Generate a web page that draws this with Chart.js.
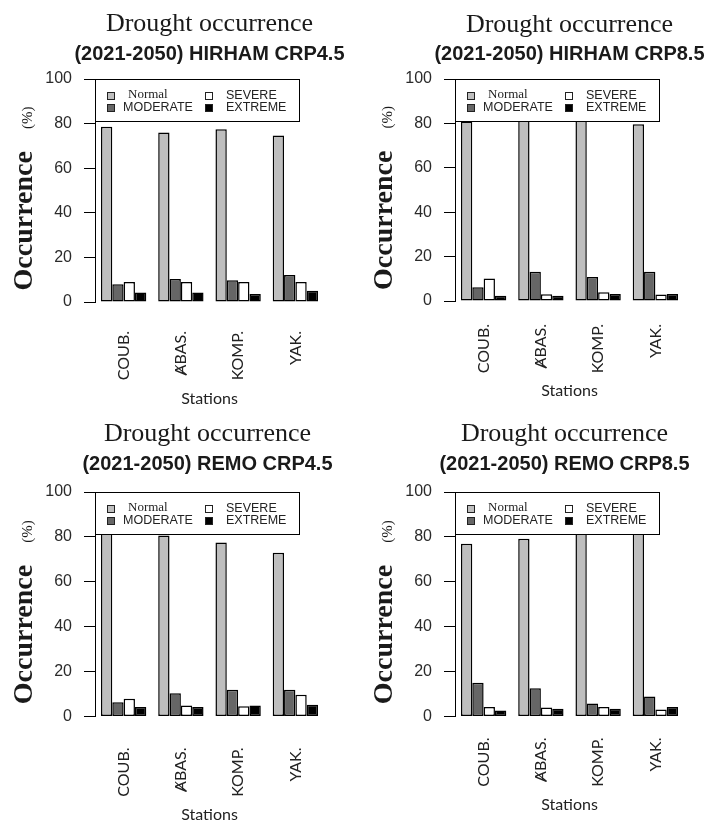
<!DOCTYPE html>
<html>
<head>
<meta charset="utf-8">
<script src="https://cdn.jsdelivr.net/npm/chart.js@4.4.1/dist/chart.umd.min.js"></script>
<style>
  html, body { margin: 0; padding: 0; background: #fff; }
  #wrap { position: relative; width: 708px; height: 827px; overflow: hidden; background: #fff; }
  #wrap canvas { position: absolute; }
</style>
</head>
<body>
<div id="wrap">
  <canvas id="c1" width="354" height="413" style="left:0;top:0"></canvas>
  <canvas id="c2" width="348" height="413" style="left:360px;top:0"></canvas>
  <canvas id="c3" width="354" height="414" style="left:0;top:413px"></canvas>
  <canvas id="c4" width="348" height="414" style="left:360px;top:413px"></canvas>
</div>
<script>
// Stations and drought classes
const stations = ['COUB.', 'ȺBAS.', 'KOMP.', 'YAK.'];
const classNames = ['Normal', 'MODERATE', 'SEVERE', 'EXTREME'];
const yTickStep = 20;

// Occurrence (%) per station, 2021-2050
const hirham45Normal   = [78.6, 76.0, 77.5, 74.7];
const hirham45Moderate = [8.0, 10.3, 9.7, 12.1];
const hirham45Severe   = [9.0, 9.0, 9.0, 9.0];
const hirham45Extreme  = [4.3, 4.3, 3.6, 5.1];

const hirham85Normal   = [80.8, 81.4, 82.1, 79.6];
const hirham85Moderate = [6.2, 13.2, 10.8, 13.2];
const hirham85Severe   = [10.1, 3.0, 3.9, 2.9];
const hirham85Extreme  = [2.4, 2.4, 3.2, 3.2];

const remo45Normal   = [81.5, 80.6, 77.5, 72.9];
const remo45Moderate = [6.4, 10.4, 11.9, 11.9];
const remo45Severe   = [7.9, 4.9, 4.6, 9.7];
const remo45Extreme  = [4.2, 4.2, 4.9, 5.2];

const remo85Normal   = [76.9, 79.2, 86.6, 83.8];
const remo85Moderate = [15.0, 12.6, 5.8, 8.9];
const remo85Severe   = [4.2, 4.0, 4.2, 3.1];
const remo85Extreme  = [2.7, 3.4, 3.4, 4.2];

const classColors = ['#bebebe', '#666666', '#ffffff', '#000000'];

// Title, mixed-font y-axis title and boxed legend drawn over the plot region
const panelDecor = {
  id: 'panelDecor',
  afterDatasetsDraw(chart, args, opts) {
    const { ctx, chartArea } = chart;
    const x0 = chartArea.left, y0 = chartArea.top, w = 205, h = 43;
    ctx.save();
    ctx.fillStyle = '#fff';
    ctx.fillRect(x0, y0, w, h);
    ctx.strokeStyle = '#000';
    ctx.lineWidth = 1;
    ctx.strokeRect(Math.round(x0) + 0.5, Math.round(y0) + 0.5, w - 1, h - 1);
    const sqX = [12, 110], txX = [28, 131], rowY = [17, 29];
    chart.data.datasets.forEach((ds, i) => {
      const col = Math.floor(i / 2), row = i % 2;
      const sx = Math.round(x0 + sqX[col]) + 0.5, sy = Math.round(y0 + rowY[row] - 4) + 0.5;
      ctx.fillStyle = ds.backgroundColor;
      ctx.fillRect(sx, sy, 7, 7);
      ctx.strokeStyle = '#222';
      ctx.strokeRect(sx, sy, 7, 7);
      ctx.fillStyle = '#222';
      ctx.textBaseline = 'middle';
      ctx.textAlign = 'left';
      if (i === 0) {
        ctx.font = '13px "Liberation Serif", "Times New Roman", serif';
        ctx.fillText(ds.label, x0 + txX[col] + 5, y0 + rowY[row] - 1);
      } else {
        ctx.font = '12.5px "Liberation Sans", Arial, sans-serif';
        ctx.fillText(ds.label, x0 + txX[col], y0 + rowY[row]);
      }
    });
    ctx.restore();
  },
  afterDraw(chart, args, opts) {
    const { ctx, chartArea } = chart;
    const cx = (chartArea.left + chartArea.right) / 2 + (opts.dx || 0);
    ctx.save();
    ctx.fillStyle = '#1a1a1a';
    ctx.textAlign = 'center';
    ctx.textBaseline = 'alphabetic';
    ctx.font = '26px "Liberation Serif", "Times New Roman", serif';
    ctx.fillText(opts.title, cx, opts.titleY);
    ctx.font = 'bold 20px "Liberation Sans", Arial, sans-serif';
    ctx.fillText(opts.subtitle, cx, opts.subY);

    // "Occurrence (%)" along the y axis
    const big = 'bold 28px "Liberation Serif", "Times New Roman", serif';
    const small = '15px "Liberation Serif", "Times New Roman", serif';
    ctx.font = big;
    const w1 = ctx.measureText('Occurrence').width;
    ctx.font = small;
    const w2 = ctx.measureText('(%)').width;
    const gap = 22;
    const total = w1 + gap + w2;
    const cy = (chartArea.top + chartArea.bottom) / 2 + 8;
    ctx.translate(32, cy);
    ctx.rotate(-Math.PI / 2);
    ctx.textAlign = 'left';
    ctx.font = big;
    ctx.fillText('Occurrence', -total / 2, 0);
    ctx.font = small;
    ctx.fillText('(%)', -total / 2 + w1 + gap, 0);
    ctx.restore();
  }
};

const panels = [
  { id: 'c1', sub: '(2021-2050) HIRHAM CRP4.5', series: [hirham45Normal, hirham45Moderate, hirham45Severe, hirham45Extreme],
    padRight: 30, xHeight: 111, tickPad: 29, titlePad: 5, titleY: 31, subY: 60, dx: 0 },
  { id: 'c2', sub: '(2021-2050) HIRHAM CRP8.5', series: [hirham85Normal, hirham85Moderate, hirham85Severe, hirham85Extreme],
    padRight: 24, xHeight: 112, tickPad: 23, titlePad: 13, titleY: 32, subY: 60, dx: 0 },
  { id: 'c3', sub: '(2021-2050) REMO CRP4.5', series: [remo45Normal, remo45Moderate, remo45Severe, remo45Extreme],
    padRight: 30, xHeight: 110.5, tickPad: 31, titlePad: 3, titleY: 28, subY: 57, dx: -2 },
  { id: 'c4', sub: '(2021-2050) REMO CRP8.5', series: [remo85Normal, remo85Moderate, remo85Severe, remo85Extreme],
    padRight: 24, xHeight: 110.5, tickPad: 21, titlePad: 13, titleY: 28, subY: 57, dx: -5 }
];

function build(p) {
  const ctx = document.getElementById(p.id).getContext('2d');
  return new Chart(ctx, {
    type: 'bar',
    data: {
      labels: stations,
      datasets: classNames.map((name, i) => ({
        label: name,
        data: p.series[i],
        backgroundColor: classColors[i],
        borderColor: '#000',
        borderWidth: 1.5,
        borderSkipped: false,
        categoryPercentage: 0.792,
        barPercentage: 1.0
      }))
    },
    options: {
      responsive: false,
      animation: false,
      layout: { padding: { top: 79, right: p.padRight, left: 0, bottom: 0 } },
      plugins: {
        legend: { display: false },
        tooltip: { enabled: false },
        title: { display: false },
        panelDecor: { title: 'Drought occurrence', subtitle: p.sub, titleY: p.titleY, subY: p.subY, dx: p.dx }
      },
      scales: {
        x: {
          ticks: {
            autoSkip: false, maxRotation: 90, minRotation: 90, padding: p.tickPad,
            color: '#222', font: { family: 'Lato, "Open Sans", sans-serif', size: 16 }
          },
          grid: { display: false, drawTicks: false },
          border: { display: false },
          title: {
            display: true, text: 'Stations', color: '#222',
            font: { family: 'Lato, "Open Sans", sans-serif', size: 16 },
            padding: { top: 0, bottom: p.titlePad }
          },
          afterFit(scale) { scale.height = p.xHeight; }
        },
        y: {
          min: 0, max: 100,
          ticks: {
            stepSize: yTickStep, padding: 12, color: '#2a2a2a',
            font: { family: '"Liberation Sans", Arial, sans-serif', size: 16 }
          },
          grid: { drawOnChartArea: false, drawTicks: true, tickLength: 11, color: '#000', lineWidth: 1 },
          border: { display: true, color: '#000', width: 1 },
          afterFit(scale) { scale.width = 95; }
        }
      }
    },
    plugins: [panelDecor]
  });
}

const fontsReady = Promise.all([
  document.fonts.load('16px Lato'),
  document.fonts.load('26px "Liberation Serif"'),
  document.fonts.load('bold 28px "Liberation Serif"'),
  document.fonts.load('bold 20px "Liberation Sans"'),
  document.fonts.load('16px "Liberation Sans"')
]).catch(() => {});
fontsReady.then(() => panels.forEach(build));
</script>
</body>
</html>
